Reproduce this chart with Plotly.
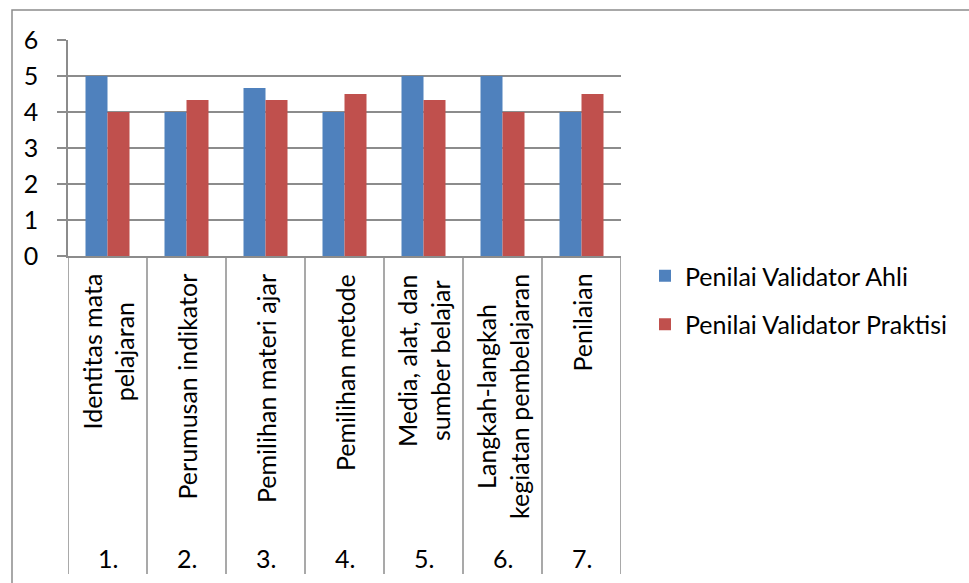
import plotly.graph_objects as go

# Category data
item_numbers = ["1.", "2.", "3.", "4.", "5.", "6.", "7."]
item_labels = [
    "Identitas mata<br>pelajaran",
    "Perumusan indikator",
    "Pemilihan materi ajar",
    "Pemilihan metode",
    "Media, alat, dan<br>sumber belajar",
    "Langkah-langkah<br>kegiatan pembelajaran",
    "Penilaian",
]
ahli_scores = [5, 4, 4.67, 4, 5, 5, 4]
praktisi_scores = [4, 4.33, 4.33, 4.5, 4.33, 4, 4.5]
y_ticks = [0, 1, 2, 3, 4, 5, 6]

FONT = "Lato"
FS = 25
GRID = "#8c8c8c"
W, H = 969, 583


def px_x(p):
    return p / W


def px_y(p):
    return (H - p) / H


fig = go.Figure()
fig.add_trace(go.Bar(
    x=item_numbers, y=ahli_scores, name="Penilai Validator Ahli",
    marker=dict(color="#4f81bd", line=dict(width=0)),
    legendgroup="a",
))
fig.add_trace(go.Bar(
    x=item_numbers, y=praktisi_scores, name="Penilai Validator Praktisi",
    marker=dict(color="#c0504d", line=dict(width=0)),
    legendgroup="b",
))

shapes = []
# outer chart frame
shapes.append(dict(type="rect", xref="paper", yref="paper",
                   x0=px_x(12), x1=1.05, y0=-0.05, y1=px_y(10),
                   line=dict(color=GRID, width=1.5), layer="below"))
# category separators of the two-level axis
for i in range(len(item_numbers) + 1):
    shapes.append(dict(type="line", xref="x", yref="paper",
                       x0=i - 0.5, x1=i - 0.5, y0=px_y(256), y1=px_y(574),
                       line=dict(color=GRID, width=1.5)))

annotations = []
for i, (num, lab) in enumerate(zip(item_numbers, item_labels)):
    annotations.append(dict(x=i, xref="x", y=px_y(272), yref="paper",
                            text=lab, textangle=-90, showarrow=False,
                            xanchor="center", yanchor="top", align="center",
                            font=dict(family=FONT, size=FS, color="black")))
    annotations.append(dict(x=i, xref="x", y=px_y(558), yref="paper",
                            text=num, showarrow=False,
                            xanchor="center", yanchor="middle",
                            font=dict(family=FONT, size=FS, color="black")))

fig.update_layout(
    width=W, height=H,
    margin=dict(l=0, r=0, t=0, b=0, autoexpand=False),
    paper_bgcolor="white", plot_bgcolor="white",
    font=dict(family=FONT, size=FS, color="black"),
    barmode="group", bargap=0.443, bargroupgap=0,
    xaxis=dict(domain=[px_x(68), px_x(621)], showticklabels=False,
               showgrid=False, ticks="", showline=True, automargin=False,
               linecolor=GRID, linewidth=1.5,
               range=[-0.5, len(item_numbers) - 0.5]),
    yaxis=dict(domain=[px_y(256), px_y(40)], range=[0, 6], automargin=False,
               tickvals=y_ticks, showgrid=True, gridcolor=GRID, gridwidth=1.5,
               ticks="outside", ticklen=9, tickcolor=GRID, tickwidth=1.5,
               showline=True, linecolor=GRID, linewidth=1.5,
               ticklabelstandoff=14, zeroline=False,
               tickfont=dict(family=FONT, size=FS, color="black")),
    legend=dict(x=px_x(645), xanchor="left", y=px_y(253), yanchor="top",
                font=dict(family=FONT, size=FS, color="black"),
                tracegroupgap=13, traceorder="grouped",
                bgcolor="rgba(0,0,0,0)"),
    shapes=shapes, annotations=annotations,
)

fig.write_html("out.html")
